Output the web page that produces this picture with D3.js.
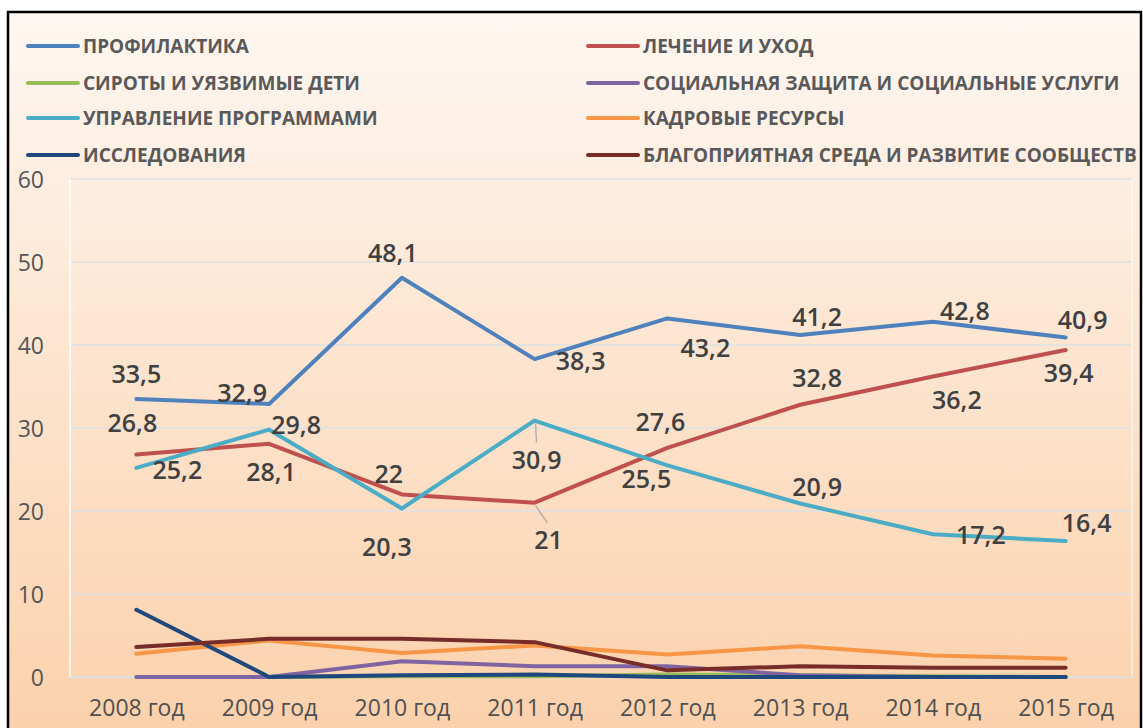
<!DOCTYPE html>
<html>
<head>
<meta charset="utf-8">
<script src="https://cdn.jsdelivr.net/npm/d3@7"></script>
<style>
  body { margin: 0; background: #fff; }
  svg { display: block; }
</style>
</head>
<body>
<div id="chart"></div>
<script>
const years = ["2008 год", "2009 год", "2010 год", "2011 год", "2012 год", "2013 год", "2014 год", "2015 год"];
const seriesNames = [
    "ПРОФИЛАКТИКА",
    "ЛЕЧЕНИЕ И УХОД",
    "СИРОТЫ И УЯЗВИМЫЕ ДЕТИ",
    "СОЦИАЛЬНАЯ ЗАЩИТА И СОЦИАЛЬНЫЕ УСЛУГИ",
    "УПРАВЛЕНИЕ ПРОГРАММАМИ",
    "КАДРОВЫЕ РЕСУРСЫ",
    "ИССЛЕДОВАНИЯ",
    "БЛАГОПРИЯТНАЯ СРЕДА И РАЗВИТИЕ СООБЩЕСТВ"
];
const prevention = [33.5, 32.9, 48.1, 38.3, 43.2, 41.2, 42.8, 40.9];
const treatment = [26.8, 28.1, 22, 21, 27.6, 32.8, 36.2, 39.4];
const orphans = [0, 0, 0.1, 0.1, 0.3, 0.2, 0.1, 0];
const social = [0, 0, 1.9, 1.3, 1.3, 0.2, 0, 0];
const management = [25.2, 29.8, 20.3, 30.9, 25.5, 20.9, 17.2, 16.4];
const staff = [2.8, 4.4, 2.9, 3.8, 2.7, 3.7, 2.6, 2.2];
const research = [8.1, 0, 0.2, 0.3, 0, 0, 0, 0];
const environment = [3.6, 4.6, 4.6, 4.2, 0.8, 1.3, 1.1, 1.1];
const yTicks = [0, 10, 20, 30, 40, 50, 60];

const allSeries = [prevention, treatment, orphans, social, management, staff, research, environment];
const colors = ["#4f81bd", "#c0504d", "#9bbb59", "#8064a2", "#4bacc6", "#f79646", "#1f497d", "#772c2a"];

// label placement (dx, dy from the point) for the labelled series
const labelOffsets = {
    0: [[0, -25], [-27, -11], [-9, -25], [46, 2], [38, 30], [17, -18], [32, -11], [17, -18]],
    1: [[-4, -32], [2, 28], [-13, -20], [14, 37], [-7, -26], [17, -27], [24, 23], [3, 23]],
    4: [[41, 2], [27, -5], [-15, 38], [2, 39], [-21, 14], [17, -17], [48, 1], [21, -18]]
};
const leaders = [[4, 3], [1, 3]];

const W = 1143, H = 728;
const plotLeft = 70, plotRight = 1132, plotTop = 179, plotBottom = 677;

const svg = d3.select("#chart").append("svg")
    .attr("width", W)
    .attr("height", H);

const defs = svg.append("defs");
const grad = defs.append("linearGradient")
    .attr("id", "bg")
    .attr("x1", 0).attr("y1", 0).attr("x2", 0).attr("y2", 1);
grad.append("stop").attr("offset", "0%").attr("stop-color", "#fef7f1");
grad.append("stop").attr("offset", "100%").attr("stop-color", "#fbd0aa");

svg.append("rect")
    .attr("x", 8).attr("y", 12)
    .attr("width", 1133).attr("height", 740)
    .attr("fill", "url(#bg)")
    .attr("stroke", "#000")
    .attr("stroke-width", 2.5);

const x = d3.scalePoint().domain(years).range([plotLeft, plotRight]).padding(0.5);
const y = d3.scaleLinear().domain([0, 60]).range([plotBottom, plotTop]);

// gridlines
svg.append("g")
    .selectAll("line")
    .data(yTicks)
    .join("line")
    .attr("x1", plotLeft).attr("x2", plotRight)
    .attr("y1", d => y(d)).attr("y2", d => y(d))
    .attr("stroke", "#dde0e3")
    .attr("stroke-width", 1.3);

svg.append("line")
    .attr("x1", plotLeft).attr("x2", plotLeft)
    .attr("y1", plotTop).attr("y2", plotBottom)
    .attr("stroke", "#fff").attr("stroke-width", 1.5);
svg.append("line")
    .attr("x1", plotRight).attr("x2", plotRight)
    .attr("y1", plotTop).attr("y2", plotBottom)
    .attr("stroke", "#fff").attr("stroke-width", 1.2).attr("opacity", 0.8);

// axes
const yAxis = svg.append("g")
    .attr("transform", `translate(${plotLeft - 26},0)`)
    .call(d3.axisLeft(y).tickValues(yTicks).tickSize(0).tickPadding(0));
yAxis.select(".domain").remove();
yAxis.selectAll("text")
    .attr("fill", "#555")
    .style("font-family", "'Open Sans', sans-serif")
    .style("font-size", "23px")
    .attr("dy", "0.36em");

const xAxis = svg.append("g")
    .attr("transform", `translate(0,${plotBottom})`)
    .call(d3.axisBottom(x).tickSize(0).tickPadding(23));
xAxis.select(".domain").attr("stroke", "#e0e0e0").attr("stroke-width", 1.3);
xAxis.selectAll("text")
    .attr("fill", "#505050")
    .style("font-family", "'Open Sans', sans-serif")
    .style("font-size", "23px");

// lines
const line = d3.line()
    .x((d, i) => x(years[i]))
    .y(d => y(d));

svg.append("g")
    .selectAll("path")
    .data(allSeries)
    .join("path")
    .attr("d", d => line(d))
    .attr("fill", "none")
    .attr("stroke", (d, i) => colors[i])
    .attr("stroke-width", 4)
    .attr("stroke-linejoin", "round")
    .attr("stroke-linecap", "round");

// leader lines
svg.append("g")
    .selectAll("line")
    .data(leaders)
    .join("line")
    .attr("x1", ([s, i]) => x(years[i]) + 1)
    .attr("y1", ([s, i]) => y(allSeries[s][i]) + 3)
    .attr("x2", ([s, i]) => x(years[i]) + labelOffsets[s][i][0] * 0.9)
    .attr("y2", ([s, i]) => y(allSeries[s][i]) + labelOffsets[s][i][1] - 17)
    .attr("stroke", "#a6a6a6")
    .attr("stroke-width", 1.2);

// data labels
const fmt = v => String(v).replace(".", ",");
for (const s of Object.keys(labelOffsets)) {
    const values = allSeries[s];
    svg.append("g")
        .selectAll("text")
        .data(values)
        .join("text")
        .attr("x", (d, i) => x(years[i]) + labelOffsets[s][i][0])
        .attr("y", (d, i) => y(d) + labelOffsets[s][i][1])
        .attr("text-anchor", "middle")
        .attr("dy", "0.36em")
        .attr("fill", "#404040")
        .style("font-family", "'Open Sans', sans-serif")
        .style("font-weight", 600)
        .style("font-size", "25px")
        .text(d => fmt(d));
}

// legend, two columns
const legend = svg.append("g");
const rowY = [46, 83, 118, 155];
const colX = [28, 588];
seriesNames.forEach((name, i) => {
    const g = legend.append("g")
        .attr("transform", `translate(${colX[i % 2]},${rowY[Math.floor(i / 2)]})`);
    g.append("line")
        .attr("x1", 0).attr("x2", 50)
        .attr("y1", 0).attr("y2", 0)
        .attr("stroke", colors[i])
        .attr("stroke-width", 4)
        .attr("stroke-linecap", "round");
    g.append("text")
        .attr("x", 55)
        .attr("dy", "0.36em")
        .attr("fill", "#595959")
        .style("font-family", "'Open Sans', sans-serif")
        .style("font-weight", 700)
        .style("font-size", "19px")
        .text(name);
});
</script>
</body>
</html>
